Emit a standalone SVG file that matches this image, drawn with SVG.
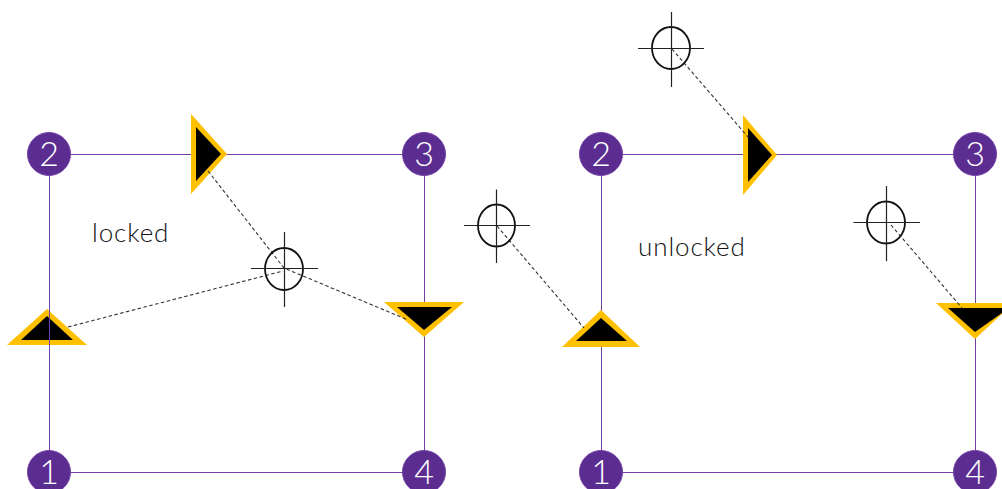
<svg xmlns="http://www.w3.org/2000/svg" width="1002" height="489" viewBox="0 0 1002 489">
<style>
.edge{stroke:#7340a8;stroke-width:1;fill:none}
.dash{stroke:#333;stroke-width:1.100;stroke-dasharray:3.500 2.500;fill:none}
.node circle{fill:#5c2d91;stroke:#7340a8;stroke-width:1}
.node text{fill:#fff;font-family:Lato,"Open Sans",sans-serif;font-weight:300;font-size:34px;text-anchor:middle}
.gold{fill:#ffc000}
.core{fill:#000}
.ring{fill:none;stroke:#111;stroke-width:1.800}
.cross{stroke:#222;stroke-width:1.200;fill:none}
.label{fill:#111;font-family:Lato,"Open Sans",sans-serif;font-weight:300;font-size:26px;letter-spacing:.9px}
</style>
<rect width="1002" height="489" fill="#fff"/>
<g id="tri-left-1-2"><polygon class="gold" points="7,345 47,309 87,345"/><polygon class="core" points="21,340 47,316 73,340"/></g>
<g id="connectors">
<path class="edge" d="M49.500 154.500V472.500H424.500V154.500H49.500"/>
<path class="edge" d="M601.500 154.500V472.500H975.500V154.500H601.500"/>
</g>
<g id="tri-left-2-3"><polygon class="gold" points="191,114 227,154 191,194"/><polygon class="core" points="196,127 221,154 196,181"/></g>
<g id="tri-left-3-4"><polygon class="gold" points="384,302 464,302 424,337"/><polygon class="core" points="397,307 452,307 424,330"/></g>
<g id="tri-right-2-3"><polygon class="gold" points="743,115 777,155 743,195"/><polygon class="core" points="748,128 772,155 748,182"/></g>
<g id="tri-right-1-2"><polygon class="gold" points="562,347 601,310 640,347"/><polygon class="core" points="576,341 601,318 627,341"/></g>
<g id="tri-right-3-4"><polygon class="gold" points="936,303 1014,303 975,339"/><polygon class="core" points="948,308 1002,308 1002,313 975,332"/></g>
<g id="handles-dashed">
<path class="dash" d="M208 171L284 268L408 320"/>
<path class="dash" d="M68 327L283 271"/>
<path class="dash" d="M497 226L584 328"/>
<path class="dash" d="M672 49L748 137"/>
<path class="dash" d="M891 225L962 308"/>
</g>
<g id="crosshair-left">
<ellipse class="ring" cx="284" cy="269" rx="19" ry="21"/>
<path class="cross" d="M251 268.500H318M284.500 232V307"/>
</g>
<g id="crosshair-mid">
<ellipse class="ring" cx="496.500" cy="225.500" rx="18.500" ry="21"/>
<path class="cross" d="M464 225.500H530M496.500 189.500V263"/>
</g>
<g id="crosshair-top">
<ellipse class="ring" cx="671" cy="48" rx="19" ry="21"/>
<path class="cross" d="M638 48.500H704M671.500 12V87"/>
</g>
<g id="crosshair-right">
<ellipse class="ring" cx="886" cy="222.500" rx="19" ry="21"/>
<path class="cross" d="M853.500 222.500H920M886.500 186V261"/>
</g>
<g id="node-l2" class="node"><circle cx="49" cy="154" r="21.500"/><text x="49" y="166">2</text></g>
<g id="node-l3" class="node"><circle cx="424" cy="154" r="21.500"/><text x="424" y="166">3</text></g>
<g id="node-l1" class="node"><circle cx="49" cy="472" r="21.500"/><text x="49" y="484">1</text></g>
<g id="node-l4" class="node"><circle cx="424" cy="472" r="21.500"/><text x="424" y="484">4</text></g>
<g id="node-r2" class="node"><circle cx="601" cy="154" r="21.500"/><text x="601" y="166">2</text></g>
<g id="node-r3" class="node"><circle cx="975" cy="154" r="21.500"/><text x="975" y="166">3</text></g>
<g id="node-r1" class="node"><circle cx="601" cy="472" r="21.500"/><text x="601" y="484">1</text></g>
<g id="node-r4" class="node"><circle cx="975" cy="472" r="21.500"/><text x="975" y="484">4</text></g>
<text class="label" x="92" y="242">locked</text>
<text class="label" x="638" y="256">unlocked</text>
</svg>
